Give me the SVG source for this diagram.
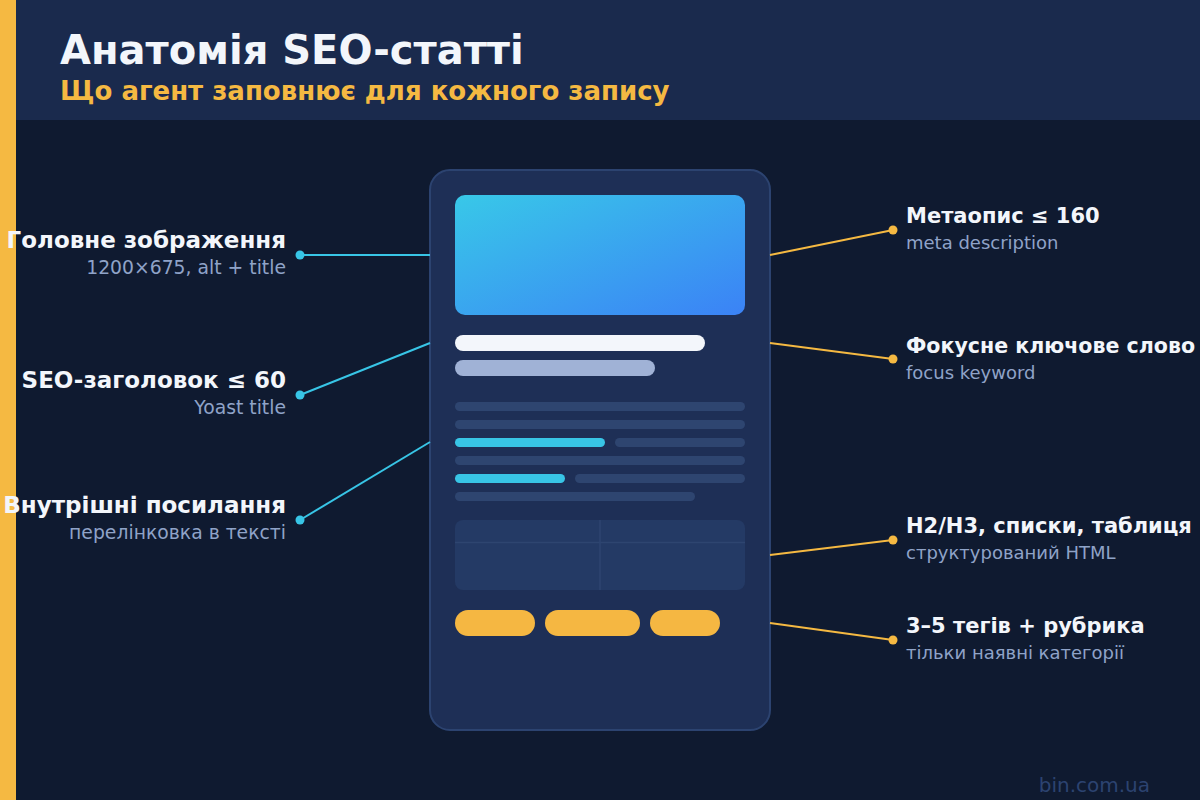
<svg xmlns="http://www.w3.org/2000/svg" width="1200" height="800" viewBox="0 0 1200 800">
<defs>
<linearGradient id="hero" x1="0" y1="0" x2="1" y2="1">
<stop offset="0" stop-color="#38c8e8"/>
<stop offset="1" stop-color="#3b82f6"/>
</linearGradient>
<style>
text{font-family:"DejaVu Sans","Noto Sans",sans-serif}
.lbl{font-size:21px;font-weight:bold;fill:#f3f6fb}
.sub{font-size:18px;fill:#8fa3c8}
.l{text-anchor:end}
.lbl.l{font-size:23px}
.sub.l{font-size:18.8px}
.ln{fill:#2e4570}
.cy{stroke:#38c5e6;stroke-width:2;fill:none}
.or{stroke:#f5b942;stroke-width:2;fill:none}
.dc{fill:#38c5e6}
.do{fill:#f5b942}
.tag{fill:#f5b742}
</style>
</defs>
<rect width="1200" height="800" fill="#0f1a30"/>
<rect width="1200" height="120" fill="#1a2a4d"/>
<rect width="16" height="800" fill="#f5b942"/>
<text x="60" y="64" font-size="40" font-weight="bold" fill="#f3f6fb">Анатомія SEO-статті</text>
<text x="60" y="100" font-size="26" font-weight="bold" fill="#f5b942">Що агент заповнює для кожного запису</text>

<g id="card">
<rect x="430" y="170" width="340" height="560" rx="20" fill="#1e2f56" stroke="#2c4370" stroke-width="2"/>
<rect x="455" y="195" width="290" height="120" rx="10" fill="url(#hero)"/>
<rect x="455" y="335" width="250" height="16" rx="8" fill="#f3f6fb"/>
<rect x="455" y="360" width="200" height="16" rx="8" fill="#a0b2d6"/>
<rect class="ln" x="455" y="402" width="290" height="9" rx="4.5"/>
<rect class="ln" x="455" y="420" width="290" height="9" rx="4.5"/>
<rect x="455" y="438" width="150" height="9" rx="4.5" fill="#38c5e6"/>
<rect class="ln" x="615" y="438" width="130" height="9" rx="4.5"/>
<rect class="ln" x="455" y="456" width="290" height="9" rx="4.5"/>
<rect x="455" y="474" width="110" height="9" rx="4.5" fill="#38c5e6"/>
<rect class="ln" x="575" y="474" width="170" height="9" rx="4.5"/>
<rect class="ln" x="455" y="492" width="240" height="9" rx="4.5"/>
<rect x="455" y="520" width="290" height="70" rx="8" fill="#243a65"/>
<line x1="455" y1="542.5" x2="745" y2="542.5" stroke="#2e4570" stroke-width="1.5"/>
<line x1="600" y1="520" x2="600" y2="590" stroke="#2e4570" stroke-width="1.5"/>
<rect class="tag" x="455" y="610" width="80" height="26" rx="13"/>
<rect class="tag" x="545" y="610" width="95" height="26" rx="13"/>
<rect class="tag" x="650" y="610" width="70" height="26" rx="13"/>
</g>

<g id="connectors">
<line class="cy" x1="300" y1="255" x2="430" y2="255"/>
<line class="cy" x1="300" y1="395" x2="430" y2="343"/>
<line class="cy" x1="300" y1="520" x2="430" y2="442"/>
<line class="or" x1="770" y1="255" x2="893" y2="230"/>
<line class="or" x1="770" y1="343" x2="893" y2="359"/>
<line class="or" x1="770" y1="555" x2="893" y2="540"/>
<line class="or" x1="770" y1="623" x2="893" y2="640"/>
<circle class="dc" cx="300" cy="255" r="4.5"/>
<circle class="dc" cx="300" cy="395" r="4.5"/>
<circle class="dc" cx="300" cy="520" r="4.5"/>
<circle class="do" cx="893" cy="230" r="4.5"/>
<circle class="do" cx="893" cy="359" r="4.5"/>
<circle class="do" cx="893" cy="540" r="4.5"/>
<circle class="do" cx="893" cy="640" r="4.5"/>
</g>

<g id="n-image">
<text class="lbl l" x="286" y="248">Головне зображення</text>
<text class="sub l" x="286" y="274">1200×675, alt + title</text>
</g>
<g id="n-title">
<text class="lbl l" x="286" y="388">SEO-заголовок ≤ 60</text>
<text class="sub l" x="286" y="414">Yoast title</text>
</g>
<g id="n-links">
<text class="lbl l" x="286" y="513">Внутрішні посилання</text>
<text class="sub l" x="286" y="539">перелінковка в тексті</text>
</g>
<g id="n-meta">
<text class="lbl" x="906" y="223">Метаопис ≤ 160</text>
<text class="sub" x="906" y="249">meta description</text>
</g>
<g id="n-focus">
<text class="lbl" x="906" y="353" textLength="289" lengthAdjust="spacingAndGlyphs">Фокусне ключове слово</text>
<text class="sub" x="906" y="379">focus keyword</text>
</g>
<g id="n-html">
<text class="lbl" x="906" y="533">H2/H3, списки, таблиця</text>
<text class="sub" x="906" y="559">структурований HTML</text>
</g>
<g id="n-tags">
<text class="lbl" x="906" y="633">3–5 тегів + рубрика</text>
<text class="sub" x="906" y="659">тільки наявні категорії</text>
</g>
<text x="1150" y="792" font-size="20" fill="#2c4370" text-anchor="end">bin.com.ua</text>
</svg>
